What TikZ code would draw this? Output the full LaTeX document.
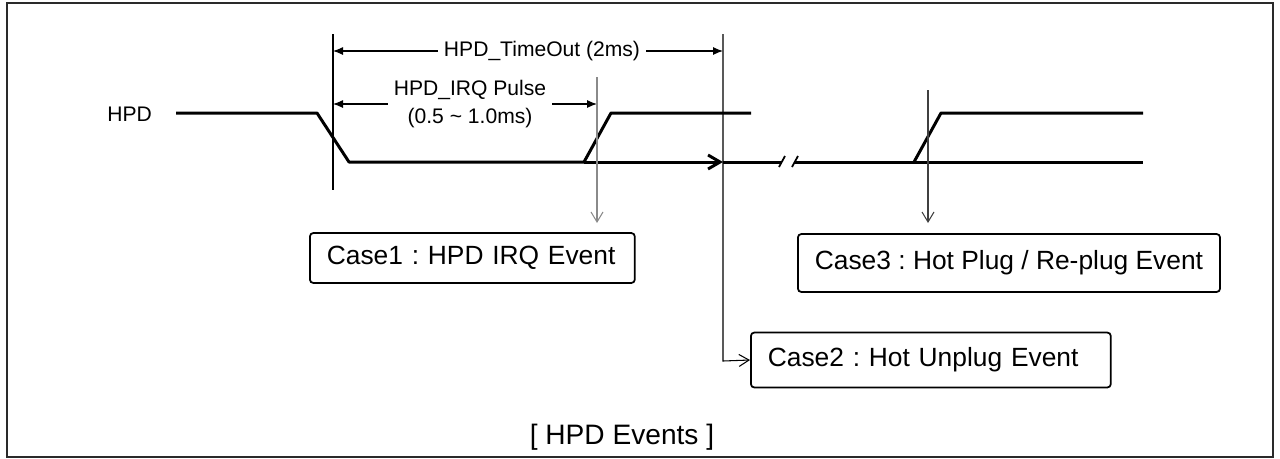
\documentclass[tikz,border=0pt]{standalone}
\usepackage{fontspec}
\setmainfont{Liberation Sans}
\usepackage{xcolor}
\usetikzlibrary{arrows.meta}
\definecolor{frame_gray}{HTML}{2a2a2a}
\definecolor{guide_gray}{HTML}{8a8a8a}

\begin{document}
\frenchspacing
\begin{tikzpicture}[x=0.02cm, y=-0.02cm, every node/.style={font=\fontsize{12}{16}\selectfont}]
            % Styles
            \tikzstyle{signal} = [line width=1.7pt, line join=round]
            \tikzstyle{guide} = [line width=0.6pt]
            \tikzstyle{dim} = [line width=0.6pt, -{Latex[length=2mm, width=1.6mm]}]
            \tikzstyle{eventarrow} = [line width=0.6pt, -{Straight Barb[length=2mm, width=2.4mm]}]
            \tikzstyle{casebox} = [draw, rounded corners=2pt, line width=1pt, anchor=west, align=left, inner xsep=0.34cm, font=\fontsize{15}{18}\selectfont]

            \useasboundingbox (0,0) rectangle (1280,458);
            \draw[line width=1.6pt, frame_gray] (7,3) rectangle (1273,457);

            % Nodes: timing marks
            \coordinate (t1top) at (333,34);
            \coordinate (t1bot) at (333,190);
            \coordinate (t2top) at (723,34);
            \coordinate (t2bend) at (723,361);
            \coordinate (t3top) at (597,77);
            \coordinate (c1tip) at (597,223);
            \coordinate (t4top) at (928,90);
            \coordinate (c3tip) at (928,223);

            % Nodes: labels
            \node[anchor=east] (hpd) at (158,114) {HPD};
            \node (tmo) at (542,51) {HPD\_TimeOut (2ms)};
            \node[align=center] (irq) at (470,104) {HPD\_IRQ Pulse\\(0.5 \textasciitilde{} 1.0ms)};

            % Nodes: events
            \node[casebox, text width=5.82cm, minimum height=1.0cm] (case1) at (309,258) {Case1 : HPD IRQ Event};
            \node[casebox, text width=6.52cm, minimum height=1.1cm] (case2) at (750,360) {Case2 : Hot Unplug Event};
            \node[casebox, minimum height=1.16cm] (case3) at (797,263) {Case3 : Hot Plug / Re-plug Event};
            \node[font=\fontsize{16}{19}\selectfont] (caption) at (622,437) {[ HPD Events ]};

            % HPD waveform
            \draw[signal] (176,113) -- (317,113) -- (349,162) -- (584,162);
            \draw[signal, -{Straight Barb[length=2.4mm, width=2.8mm]}] (584,162) -- (723,162);
            \draw[signal] (723,162) -- (782,162);
            \draw[signal] (584,162) -- (611,113) -- (751,113);
            \draw[line width=1pt] (779,167) -- (785,156);
            \draw[line width=1pt] (792,167) -- (798,156);
            \draw[signal] (795,162) -- (1143,162);
            \draw[signal] (914,162) -- (941,113) -- (1143,113);

            % Timing arrows
            \draw[guide] (t1top) -- (t1bot);
            \draw[dim] (tmo.west) -- (t1top |- tmo.west);
            \draw[dim] (tmo.east) -- (t2top |- tmo.east);
            \draw[dim] (irq.west) -- (t1top |- irq.west);
            \draw[dim] (irq.east) -- (t3top |- irq.east);

            % Event edges
            \draw[eventarrow, guide_gray] (t3top) -- (c1tip);
            \draw[eventarrow] (t2top) -- (t2bend) -- (case2.west);
            \draw[eventarrow, black!75] (t4top) -- (c3tip);
        \end{tikzpicture}
\end{document}
